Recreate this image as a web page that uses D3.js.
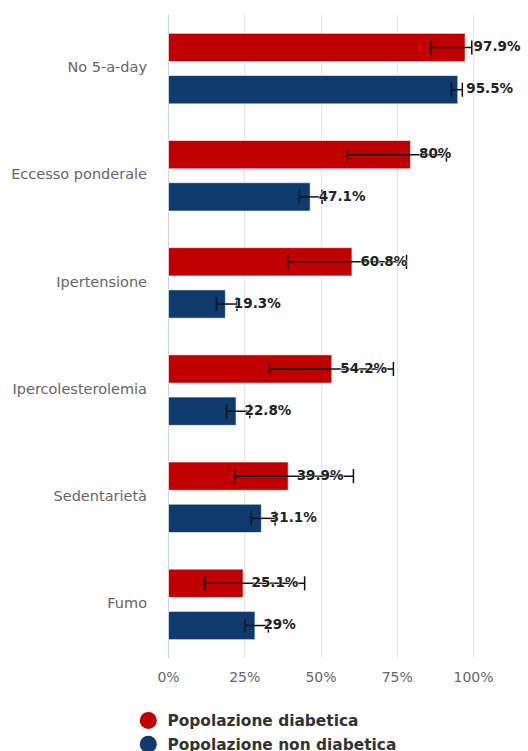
<!DOCTYPE html>
<html>
<head>
<meta charset="utf-8">
<script src="https://cdn.jsdelivr.net/npm/d3@7/dist/d3.min.js"></script>
<style>
  html, body { margin: 0; padding: 0; background: #fff; }
  svg { display: block; font-family: "DejaVu Sans", sans-serif; }
</style>
</head>
<body>
<svg id="chart" width="528" height="751"></svg>
<script>
const categories = ["No 5-a-day", "Eccesso ponderale", "Ipertensione", "Ipercolesterolemia", "Sedentarietà", "Fumo"];
const seriesNames = ["Popolazione diabetica", "Popolazione non diabetica"];
const seriesColors = ["#c00000", "#0e3a6e"];
const diabetici = [97.9, 80, 60.8, 54.2, 39.9, 25.1];
const nonDiabetici = [95.5, 47.1, 19.3, 22.8, 31.1, 29];
const diabeticiLow = [86.2, 58.9, 39.3, 33.3, 22.0, 12.1];
const diabeticiHigh = [99.6, 91.3, 78.2, 73.9, 60.8, 44.8];
const nonDiabeticiLow = [92.9, 43.1, 15.9, 19.2, 27.3, 25.3];
const nonDiabeticiHigh = [96.5, 50.5, 22.6, 26.8, 35.1, 32.9];
const xTicks = [0, 25, 50, 75, 100];

const values = [diabetici, nonDiabetici];
const lows = [diabeticiLow, nonDiabeticiLow];
const highs = [diabeticiHigh, nonDiabeticiHigh];

const svg = d3.select("#chart");
const pLeft = 168, pRight = 473, pTop = 15, pBottom = 658;

const x = d3.scaleLinear().domain([0, 100]).range([pLeft, pRight]);
const y = d3.scaleBand().domain(categories).range([pTop, pBottom]).paddingInner(0.342).paddingOuter(0.171);
const ySub = d3.scaleBand().domain([0, 1]).range([0, y.bandwidth()]).paddingInner(0.33);

// gridlines
svg.append("g").selectAll("line").data(xTicks.slice(1)).join("line")
  .attr("x1", d => Math.round(x(d)) + 0.5).attr("x2", d => Math.round(x(d)) + 0.5)
  .attr("y1", pTop).attr("y2", pBottom)
  .attr("stroke", "#e6e6e6").attr("stroke-width", 1);

// category axis line
svg.append("line")
  .attr("x1", pLeft + 0.5).attr("x2", pLeft + 0.5).attr("y1", pTop).attr("y2", pBottom)
  .attr("stroke", "#ccd6eb").attr("stroke-width", 1);

// x axis labels
const xAxis = d3.axisBottom(x).tickValues(xTicks).tickFormat(d => d + "%").tickSize(0).tickPadding(0);
const xg = svg.append("g").attr("transform", `translate(0, ${pBottom})`).call(xAxis);
xg.select(".domain").remove();
xg.selectAll("text").attr("font-size", "14px").attr("fill", "#666").attr("dy", null).attr("y", 24)
  .attr("font-family", "DejaVu Sans, sans-serif");

// category labels
const yAxis = d3.axisLeft(y).tickSize(0).tickPadding(0);
const yg = svg.append("g").attr("transform", `translate(${pLeft - 21}, -1)`).call(yAxis);
yg.select(".domain").remove();
yg.selectAll("text").attr("font-size", "14.5px").attr("fill", "#666").attr("font-family", "DejaVu Sans, sans-serif");

// bars
seriesNames.forEach((name, s) => {
  const g = svg.append("g");
  g.selectAll("rect").data(categories).join("rect")
    .attr("x", x(0) + 0.5)
    .attr("y", (c) => y(c) + ySub(s))
    .attr("width", (c, i) => x(values[s][i]) - x(0) - 2)
    .attr("height", ySub.bandwidth())
    .attr("fill", seriesColors[s])
    .attr("stroke", "#fff").attr("stroke-opacity", 0.6).attr("stroke-width", 1);
});

// error bars
seriesNames.forEach((name, s) => {
  const g = svg.append("g").attr("stroke", "#111").attr("stroke-width", 1.5);
  categories.forEach((c, i) => {
    const cy = y(c) + ySub(s) + ySub.bandwidth() / 2;
    const h = ySub.bandwidth() / 4;
    const x1 = x(lows[s][i]), x2 = x(highs[s][i]);
    g.append("line").attr("x1", x1).attr("x2", x2).attr("y1", cy).attr("y2", cy);
    g.append("line").attr("x1", x1).attr("x2", x1).attr("y1", cy - h).attr("y2", cy + h);
    g.append("line").attr("x1", x2).attr("x2", x2).attr("y1", cy - h).attr("y2", cy + h);
  });
});

// data labels
seriesNames.forEach((name, s) => {
  svg.append("g").selectAll("text").data(categories).join("text")
    .attr("x", (c, i) => x(values[s][i]) + 7)
    .attr("y", c => y(c) + ySub(s) + ySub.bandwidth() / 2 - 1)
    .attr("dy", "0.35em")
    .attr("font-size", "13.5px").attr("font-weight", "bold").attr("fill", "#222")
    .attr("stroke", "#fff").attr("stroke-width", 1).attr("paint-order", "stroke")
    .text((c, i) => values[s][i] + "%");
});

// legend
const lg = svg.append("g");
seriesNames.forEach((name, s) => {
  const ly = 720.5 + s * 23.7;
  lg.append("circle").attr("cx", 148.3).attr("cy", ly).attr("r", 8.5).attr("fill", seriesColors[s]);
  lg.append("text").attr("x", 167.5).attr("y", ly).attr("dy", "0.35em")
    .attr("font-size", "15.4px").attr("font-weight", "bold").attr("fill", "#333").text(name);
});
</script>
</body>
</html>
